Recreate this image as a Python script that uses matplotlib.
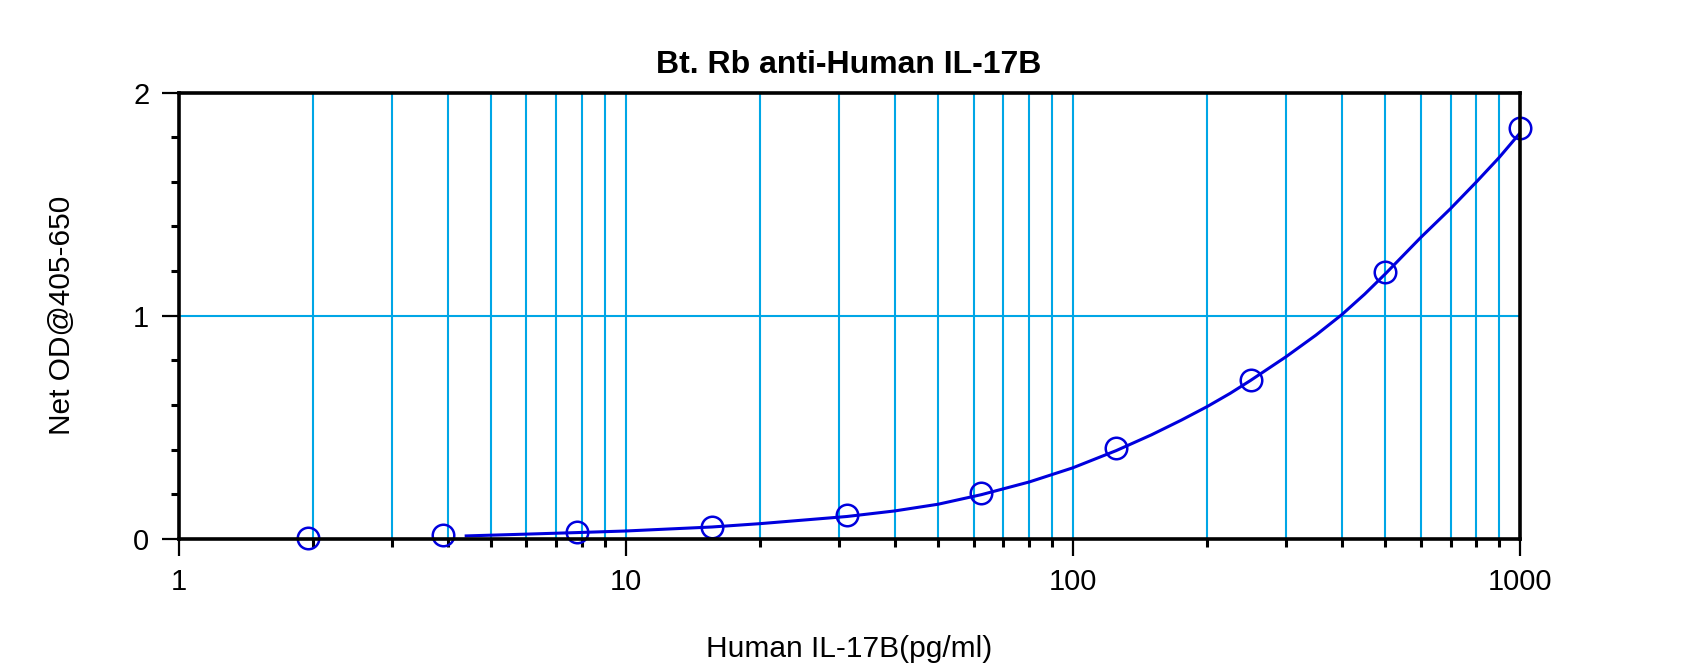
import matplotlib
matplotlib.use("Agg")
import matplotlib.pyplot as plt
from matplotlib.ticker import FixedLocator, NullFormatter

# ── Data ──────────────────────────────────────────────────────────────────────
conc = [1.95, 3.9, 7.8, 15.6, 31.25, 62.5, 125, 250, 500, 1000]
od = [0.003, 0.015, 0.03, 0.054, 0.105, 0.204, 0.405, 0.713, 1.195, 1.843]

# fitted curve
fit_x = [4.4, 6, 7.8, 10, 15.6, 20, 31.25, 40, 50, 62.5, 80, 100, 125,
         150, 175, 200, 225, 250, 300, 350, 400, 450, 500, 600, 700, 800,
         900, 1000]
fit_y = [0.013, 0.021, 0.028, 0.035, 0.053, 0.068, 0.1, 0.125, 0.155, 0.198,
         0.255, 0.318, 0.395, 0.466, 0.532, 0.593, 0.652, 0.71, 0.816, 0.913,
         1.005, 1.097, 1.187, 1.35, 1.48, 1.6, 1.71, 1.818]

x_major = [1, 10, 100, 1000]
x_minor = [2, 3, 4, 5, 6, 7, 8, 9, 20, 30, 40, 50, 60, 70, 80, 90,
           200, 300, 400, 500, 600, 700, 800, 900]
y_major = [0, 1, 2]
y_minor = [0.2, 0.4, 0.6, 0.8, 1.2, 1.4, 1.6, 1.8]

TITLE = "Bt. Rb anti-Human IL-17B"
XLABEL = "Human IL-17B(pg/ml)"
YLABEL = "Net OD@405-650"

# ── Style ─────────────────────────────────────────────────────────────────────
plt.rcParams["font.family"] = ["Liberation Sans", "DejaVu Sans"]
GRID = "#00a6e6"
BLUE = "#0000dd"

fig = plt.figure(figsize=(17, 6.71), dpi=100)
ax = fig.add_axes([0.105, 0.197, 0.789, 0.665])

ax.set_xscale("log")
ax.set_xlim(1, 1000)
ax.set_ylim(0, 2)

for v in x_minor + x_major[1:-1]:
    ax.axvline(v, color=GRID, linewidth=1.5, zorder=1)
ax.axhline(1, color=GRID, linewidth=1.5, zorder=1)

ax.plot(fit_x, fit_y, color=BLUE, linewidth=2.2, zorder=3)
ax.plot(conc, od, linestyle="none", marker="o", markersize=15.5,
        markerfacecolor="none", markeredgecolor=BLUE, markeredgewidth=1.8,
        zorder=4, clip_on=False)

ax.xaxis.set_major_locator(FixedLocator(x_major))
ax.xaxis.set_minor_locator(FixedLocator(x_minor))
ax.xaxis.set_minor_formatter(NullFormatter())
ax.set_xticklabels([str(v) for v in x_major])
ax.yaxis.set_major_locator(FixedLocator(y_major))
ax.yaxis.set_minor_locator(FixedLocator(y_minor))
ax.set_yticklabels([str(v) for v in y_major])

ax.tick_params(which="major", direction="out", length=12, width=1.6,
               labelsize=21)
ax.tick_params(axis="x", which="major", pad=9)
ax.tick_params(axis="y", which="major", pad=9)
ax.tick_params(which="minor", direction="out", length=6, width=2.2)

for s in ax.spines.values():
    s.set_linewidth(2.6)
    s.set_zorder(5)

ax.set_title(TITLE, fontsize=23, fontweight="bold", pad=14)
ax.set_xlabel(XLABEL, fontsize=21.5, labelpad=28)
ax.set_ylabel(YLABEL, fontsize=21.5, labelpad=41)

fig.savefig("out.png", dpi=100)
